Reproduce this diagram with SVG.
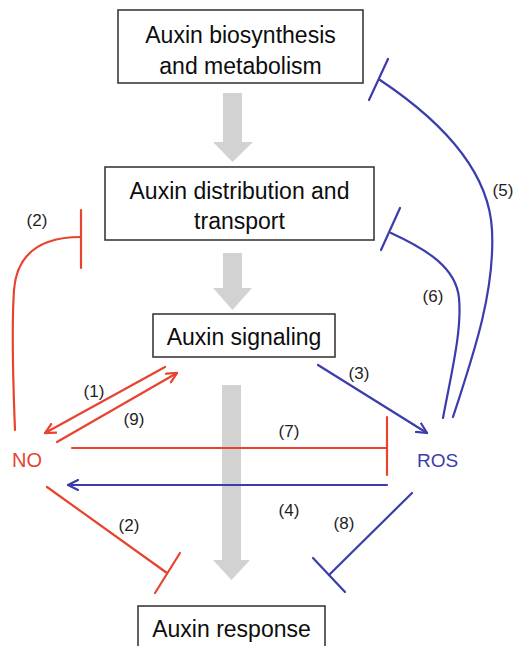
<svg xmlns="http://www.w3.org/2000/svg" width="515" height="646" viewBox="0 0 515 646">
<style>
.box{fill:#fff;stroke:#3a3a3a;stroke-width:1.6}
.bt{font-family:"Liberation Sans",Arial,sans-serif;font-size:23px;fill:#0d0d0d;text-anchor:middle}
.lbl{font-family:"Liberation Sans",Arial,sans-serif;font-size:17px;fill:#1e1e1e;text-anchor:middle}
.big{fill:#d2d2d2}
.red{fill:none;stroke:#e8432f;stroke-width:2.2;stroke-linecap:round}
.blue{fill:none;stroke:#3b3dab;stroke-width:2.2;stroke-linecap:round}
</style>
<defs>
<marker id="ahr" markerUnits="userSpaceOnUse" viewBox="0 0 12 12" refX="11" refY="6" markerWidth="12" markerHeight="12" orient="auto">
<path d="M1,1 L11,6 L1,11" fill="none" stroke="#e8432f" stroke-width="2.2" stroke-linecap="round"/>
</marker>
<marker id="ahb" markerUnits="userSpaceOnUse" viewBox="0 0 12 12" refX="11" refY="6" markerWidth="12" markerHeight="12" orient="auto">
<path d="M1,1 L11,6 L1,11" fill="none" stroke="#3b3dab" stroke-width="2.2" stroke-linecap="round"/>
</marker>
</defs>
<rect width="515" height="646" fill="#fff"/>

<g id="flow">
<path class="big" d="M223,93 H242 V142 H253 L232.5,162 L213,142 H223 Z"/>
<path class="big" d="M223,253 H242 V288 H252 L232.5,310 L213,288 H223 Z"/>
<path class="big" d="M222,385 H241 V560 H250 L231.5,580 L213,560 H222 Z"/>
</g>

<g id="n-biosynthesis">
<rect class="box" x="118" y="10" width="245" height="73"/>
<text class="bt" x="240.5" y="43">Auxin biosynthesis</text>
<text class="bt" x="240.5" y="74">and metabolism</text>
</g>
<g id="n-distribution">
<rect class="box" x="105" y="167" width="269" height="73"/>
<text class="bt" x="239.5" y="199">Auxin distribution and</text>
<text class="bt" x="239.5" y="229">transport</text>
</g>
<g id="n-signaling">
<rect class="box" x="153" y="314" width="182" height="43"/>
<text class="bt" x="244" y="345">Auxin signaling</text>
</g>
<g id="n-response">
<rect class="box" x="138" y="606" width="187" height="50"/>
<text class="bt" x="231.5" y="637">Auxin response</text>
</g>
<g id="n-no">
<text x="12" y="467" font-family="'Liberation Sans',Arial,sans-serif" font-size="20" fill="#e8432f">NO</text>
</g>
<g id="n-ros">
<text x="417" y="467" font-family="'Liberation Sans',Arial,sans-serif" font-size="19" fill="#3b3dab">ROS</text>
</g>

<g id="connectors">
<path class="red" d="M15,430 C13,380 12,320 14,290 C17,252 42,237 81,237"/>
<line class="red" x1="81" y1="210" x2="81" y2="268"/>
<line class="red" x1="165" y1="367" x2="45" y2="433" marker-end="url(#ahr)"/>
<line class="red" x1="57" y1="442" x2="177" y2="373" marker-end="url(#ahr)"/>
<line class="red" x1="72" y1="448" x2="387" y2="448"/>
<line class="red" x1="387" y1="417" x2="387" y2="475"/>
<line class="red" x1="47" y1="487" x2="167" y2="573"/>
<line class="red" x1="180" y1="553" x2="155" y2="593"/>
<line class="blue" x1="318" y1="365" x2="427" y2="433" marker-end="url(#ahb)"/>
<line class="blue" x1="387" y1="485" x2="68" y2="485" marker-end="url(#ahb)"/>
<line class="blue" x1="412" y1="493" x2="329" y2="575"/>
<line class="blue" x1="313" y1="558" x2="345" y2="592"/>
<path class="blue" d="M443,418 C452,370 462,330 459,298 C456,268 428,250 391,233"/>
<line class="blue" x1="400" y1="208" x2="381" y2="250"/>
<path class="blue" d="M453,417 C475,350 495,290 492,230 C489,170 440,120 380,80"/>
<line class="blue" x1="388" y1="59" x2="369" y2="100"/>
</g>

<g id="labels">
<text class="lbl" x="37" y="226">(2)</text>
<text class="lbl" x="94" y="397">(1)</text>
<text class="lbl" x="134" y="425">(9)</text>
<text class="lbl" x="289" y="437">(7)</text>
<text class="lbl" x="359" y="379">(3)</text>
<text class="lbl" x="433" y="302">(6)</text>
<text class="lbl" x="503" y="196">(5)</text>
<text class="lbl" x="289" y="516">(4)</text>
<text class="lbl" x="344" y="529">(8)</text>
<text class="lbl" x="129" y="531">(2)</text>
</g>
</svg>
